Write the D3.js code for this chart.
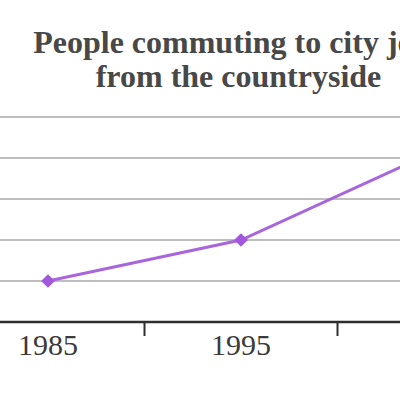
<!DOCTYPE html>
<html>
<head>
<meta charset="utf-8">
<script src="https://cdn.jsdelivr.net/npm/d3@7"></script>
<style>
  body { margin: 0; background: #fff; }
  svg { display: block; }
  .title { font-family: "Liberation Serif", serif; font-weight: bold; font-size: 32px; fill: #484848; }
  .xlab text { font-family: "Liberation Serif", serif; font-size: 30px; fill: #3a3a3a; }
</style>
</head>
<body>
<svg width="400" height="400"></svg>
<script>
// data
const years = ["1985", "1995", "2005"];
const commuters = [1, 2, 4.15];
const gridValues = [1, 2, 3, 4, 5];
const titleLines = ["People commuting to city jobs", "from the countryside"];

// sizes (plot is wider than the crop, left and right run off the page)
const plot = { l: -48.5, r: 530.5, t: 117, b: 322 };

const svg = d3.select("svg");

// scales
const xScale = d3.scaleBand()
  .domain(years)
  .range([plot.l, plot.r]);

const yScale = d3.scaleLinear()
  .domain([0, 5])
  .range([plot.b, plot.t]);

// title
svg.append("text")
  .attr("class", "title")
  .attr("text-anchor", "middle")
  .selectAll("tspan")
  .data(titleLines)
  .enter()
  .append("tspan")
    .attr("x", 238.5)
    .attr("y", (d, i) => 53 + i * 34)
    .text(d => d);

// horizontal grid
svg.append("g")
  .attr("class", "grid")
  .selectAll("line")
  .data(gridValues)
  .enter()
  .append("line")
    .attr("x1", plot.l)
    .attr("x2", plot.r)
    .attr("y1", d => yScale(d))
    .attr("y2", d => yScale(d))
    .attr("stroke", "#a9a9a9")
    .attr("stroke-width", 1.5);

// x axis labels
const xAxis = svg.append("g")
  .attr("class", "xlab")
  .attr("transform", `translate(0, ${plot.b})`)
  .call(d3.axisBottom(xScale).tickSize(0).tickPadding(12));
xAxis.select(".domain").remove();
xAxis.selectAll("text").attr("dy", "0.71em");

// axis line + ticks between categories
svg.append("line")
  .attr("x1", plot.l)
  .attr("x2", plot.r)
  .attr("y1", plot.b)
  .attr("y2", plot.b)
  .attr("stroke", "#2e2e2e")
  .attr("stroke-width", 2.5);

svg.append("g")
  .selectAll("line")
  .data(years.slice(0, -1))
  .enter()
  .append("line")
    .attr("x1", d => xScale(d) + xScale.bandwidth())
    .attr("x2", d => xScale(d) + xScale.bandwidth())
    .attr("y1", plot.b)
    .attr("y2", plot.b + 14)
    .attr("stroke", "#2e2e2e")
    .attr("stroke-width", 2);

// data line
const pts = years.map((y, i) => ({ year: y, value: commuters[i] }));
const xc = d => xScale(d.year) + xScale.bandwidth() / 2;

svg.append("path")
  .datum(pts)
  .attr("fill", "none")
  .attr("stroke", "#a866dc")
  .attr("stroke-width", 3)
  .attr("d", d3.line().x(xc).y(d => yScale(d.value)));

svg.append("g")
  .selectAll("path")
  .data(pts)
  .enter()
  .append("path")
    .attr("transform", d => `translate(${xc(d)}, ${yScale(d.value)})`)
    .attr("d", d3.symbol(d3.symbolDiamond2, 120))
    .attr("fill", "#a258dc");
</script>
</body>
</html>
